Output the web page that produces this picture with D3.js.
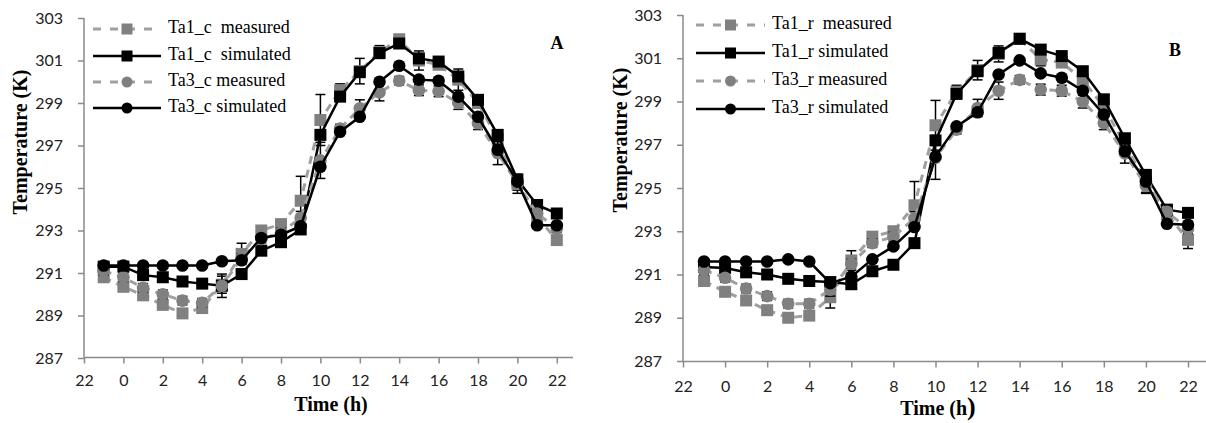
<!DOCTYPE html>
<html>
<head>
<meta charset="utf-8">
<script src="https://cdn.jsdelivr.net/npm/d3@7/dist/d3.min.js"></script>
<style>
  html, body { margin: 0; padding: 0; background: #fff; }
  svg { display: block; }
</style>
</head>
<body>
<svg id="chart" width="1206" height="423"></svg>
<script>
// ---------- data ----------
const hours = [-1,0,1,2,3,4,5,6,7,8,9,10,11,12,13,14,15,16,17,18,19,20,21,22];
const xTicks = [-2,0,2,4,6,8,10,12,14,16,18,20,22];
const xTickLabels = ["22","0","2","4","6","8","10","12","14","16","18","20","22"];
const yTicks = [287,289,291,293,295,297,299,301,303];

// Panel A
const ta1cMeasured = [290.8,290.35,289.95,289.5,289.1,289.35,290.45,291.9,293.0,293.3,294.4,298.2,299.6,300.5,301.4,302.0,301.0,300.8,300.1,299.0,297.3,295.2,293.65,292.55];
const ta1cSimulated = [291.3,291.3,290.9,290.8,290.6,290.5,290.4,290.95,292.05,292.45,293.05,297.5,299.3,300.45,301.35,301.8,301.1,300.95,300.25,299.15,297.5,295.4,294.2,293.8];
const ta3cMeasured = [291.1,290.8,290.3,290.0,289.7,289.6,290.4,291.7,292.6,292.9,293.6,296.3,297.8,298.75,299.5,300.05,299.6,299.55,299.0,298.05,296.65,295.2,293.8,293.1];
const ta3cSimulated = [291.35,291.35,291.35,291.35,291.35,291.35,291.55,291.6,292.65,292.8,293.2,296.0,297.65,298.35,300.0,300.75,300.1,300.05,299.3,298.35,296.8,295.3,293.25,293.25];
const ta1cError = [0.2,0.2,0.2,0.2,0.2,0.2,0.4,0.5,0.2,0.2,1.15,1.2,0.3,0.6,0.3,0.2,0.45,0.2,0.5,0.2,0.3,0.3,0.2,0.2];
const ta3cError = [0.2,0.2,0.2,0.2,0.2,0.2,0.55,0.2,0.2,0.2,0.3,0.85,0.2,0.4,0.4,0.2,0.25,0.25,0.3,0.3,0.55,0.45,0.2,0.2];

// Panel B
const ta1rMeasured = [290.7,290.2,289.8,289.35,289.0,289.1,289.95,291.65,292.75,293.0,294.2,297.9,299.45,300.45,301.2,301.9,300.95,300.8,300.0,298.75,297.0,295.3,293.8,292.6];
const ta1rSimulated = [291.35,291.3,291.1,291.0,290.8,290.7,290.65,290.55,291.15,291.45,292.45,297.2,299.35,300.4,301.25,301.9,301.4,301.1,300.4,299.1,297.3,295.6,294.0,293.85];
const ta3rMeasured = [291.2,290.85,290.35,290.0,289.65,289.65,290.3,291.5,292.45,292.75,293.6,296.4,297.7,298.7,299.5,300.0,299.55,299.5,299.0,298.0,296.6,295.1,293.9,293.1];
const ta3rSimulated = [291.6,291.6,291.6,291.6,291.7,291.6,290.6,290.9,291.7,292.3,293.2,296.45,297.85,298.5,300.25,300.9,300.3,300.1,299.5,298.4,296.7,295.3,293.35,293.3];
const ta1rError = [0.2,0.2,0.2,0.2,0.2,0.2,0.5,0.45,0.2,0.2,1.1,1.15,0.3,0.45,0.37,0.2,0.3,0.2,0.3,0.2,0.3,0.55,0.2,0.4];
const ta3rError = [0.2,0.2,0.2,0.2,0.2,0.2,0.3,0.2,0.2,0.2,0.3,1.0,0.2,0.4,0.4,0.2,0.25,0.25,0.3,0.3,0.45,0.3,0.2,0.2];

const legendA = ["Ta1_c  measured","Ta1_c  simulated","Ta3_c measured","Ta3_c simulated"];
const legendB = ["Ta1_r  measured","Ta1_r simulated","Ta3_r measured","Ta3_r simulated"];

// ---------- drawing ----------
const svg = d3.select("#chart");
const GRAY_LINE = "#a0a0a0", GRAY_MARK = "#808080", BLACK = "#000", AXIS = "#8a8a8a";
const serif = "'Liberation Serif','Times New Roman',serif";
const sans = "Lato, 'Open Sans', sans-serif";

function drawPanel(p) {
  const g = svg.append("g");
  const x = d3.scaleLinear().domain([-2, 22]).range([p.left, p.x22]);
  const y = d3.scaleLinear().domain([287, 303]).range([p.y287, p.y303]);

  // y axis
  const ya = g.append("g").attr("transform", `translate(${p.left},0)`)
    .call(d3.axisLeft(y).tickValues(yTicks).tickSize(6).tickPadding(15).tickFormat(d3.format("d")));
  ya.select(".domain").remove();
  ya.selectAll(".tick line").attr("stroke", AXIS).attr("stroke-width", 1.5);
  ya.selectAll(".tick text").attr("font-family", sans).attr("font-size", 16).attr("fill", "#222");
  g.append("line").attr("x1", p.left).attr("x2", p.left).attr("y1", y(303)).attr("y2", p.axisY)
    .attr("stroke", AXIS).attr("stroke-width", 1.5);

  // x axis
  const xa = g.append("g").attr("transform", `translate(0,${p.axisY})`)
    .call(d3.axisBottom(x).tickValues(xTicks).tickSize(6).tickPadding(p.xPad)
      .tickFormat((d, i) => xTickLabels[i]));
  xa.select(".domain").remove();
  xa.selectAll(".tick line").attr("stroke", AXIS).attr("stroke-width", 1.5);
  xa.selectAll(".tick text").attr("font-family", sans).attr("font-size", 16).attr("fill", "#222");
  g.append("line").attr("x1", p.left).attr("x2", p.axisEnd).attr("y1", p.axisY).attr("y2", p.axisY)
    .attr("stroke", AXIS).attr("stroke-width", 1.5);

  // axis titles
  g.append("text").attr("transform", `translate(${p.yTitleX},${p.yTitleY}) rotate(-90)`)
    .attr("text-anchor", "middle").attr("dominant-baseline", "middle")
    .attr("font-family", serif).attr("font-weight", "bold").attr("font-size", 20)
    .text("Temperature (K)");
  const xt = g.append("text").attr("x", p.xTitleX).attr("y", p.xTitleY)
    .attr("text-anchor", "middle").attr("font-family", serif).attr("font-weight", "bold").attr("font-size", 20);
  if (p.bigParen) {
    xt.append("tspan").text("Time (h");
    xt.append("tspan").attr("font-size", 26).text(")");
  } else {
    xt.text("Time (h)");
  }

  // panel letter
  g.append("text").attr("x", p.letterX).attr("y", p.letterY).attr("text-anchor", "middle")
    .attr("font-family", serif).attr("font-weight", "bold").attr("font-size", 18).text(p.letter);

  const series = [
    {vals: p.s[0], err: p.e[0], dashed: true, shape: "square"},
    {vals: p.s[1], err: null, dashed: false, shape: "square"},
    {vals: p.s[2], err: p.e[1], dashed: true, shape: "circle"},
    {vals: p.s[3], err: null, dashed: false, shape: "circle"}
  ];
  const line = d3.line().x((d, i) => x(hours[i])).y(d => y(d));

  series.forEach(s => {
    if (s.err) {
      const eg = g.append("g").attr("stroke", BLACK).attr("stroke-width", 1.5);
      s.vals.forEach((v, i) => {
        const cx = x(hours[i]), e = s.err[i];
        eg.append("line").attr("x1", cx).attr("x2", cx).attr("y1", y(v - e)).attr("y2", y(v + e));
        eg.append("line").attr("x1", cx - 5).attr("x2", cx + 5).attr("y1", y(v + e)).attr("y2", y(v + e));
        eg.append("line").attr("x1", cx - 5).attr("x2", cx + 5).attr("y1", y(v - e)).attr("y2", y(v - e));
      });
    }
    g.append("path").datum(s.vals).attr("d", line).attr("fill", "none")
      .attr("stroke", s.dashed ? GRAY_LINE : BLACK).attr("stroke-width", s.dashed ? 3 : 2.5)
      .attr("stroke-dasharray", s.dashed ? "8,6" : null);
    const fill = s.dashed ? GRAY_MARK : BLACK;
    s.vals.forEach((v, i) => {
      if (s.shape === "square") {
        g.append("rect").attr("x", x(hours[i]) - 6).attr("y", y(v) - 6).attr("width", 12).attr("height", 12).attr("fill", fill);
      } else {
        g.append("circle").attr("cx", x(hours[i])).attr("cy", y(v)).attr("r", 6.3).attr("fill", fill);
      }
    });
  });

  // legend
  p.legend.forEach((label, i) => {
    const s = series[i];
    const ly = p.legY[i];
    g.append("line").attr("x1", p.legX1).attr("x2", p.legX2).attr("y1", ly).attr("y2", ly)
      .attr("stroke", s.dashed ? GRAY_LINE : BLACK).attr("stroke-width", s.dashed ? 3 : 2.5)
      .attr("stroke-dasharray", s.dashed ? "8,9" : null);
    const mx = (p.legX1 + p.legX2) / 2;
    const fill = s.dashed ? GRAY_MARK : BLACK;
    if (s.shape === "square") g.append("rect").attr("x", mx - 5.5).attr("y", ly - 5.5).attr("width", 11).attr("height", 11).attr("fill", fill);
    else g.append("circle").attr("cx", mx).attr("cy", ly).attr("r", 5.5).attr("fill", fill);
    g.append("text").attr("x", p.legTextX).attr("y", ly).attr("dominant-baseline", "middle")
      .attr("font-family", serif).attr("font-size", 18).attr("xml:space", "preserve")
      .style("white-space", "pre").text(label);
  });
}

drawPanel({
  left: 84, x22: 556.8, y287: 358, y303: 18, axisY: 357.5, axisEnd: 573, xPad: 11,
  yTitleX: 22, yTitleY: 142, xTitleX: 331, xTitleY: 411, bigParen: false,
  letter: "A", letterX: 557, letterY: 49,
  s: [ta1cMeasured, ta1cSimulated, ta3cMeasured, ta3cSimulated], e: [ta1cError, ta3cError],
  legend: legendA, legY: [29, 56, 82, 108], legX1: 93, legX2: 161, legTextX: 168
});
drawPanel({
  left: 683, x22: 1188, y287: 361, y303: 15, axisY: 361.5, axisEnd: 1206, xPad: 13,
  yTitleX: 622, yTitleY: 140, xTitleX: 938, xTitleY: 415, bigParen: true,
  letter: "B", letterX: 1175, letterY: 56,
  s: [ta1rMeasured, ta1rSimulated, ta3rMeasured, ta3rSimulated], e: [ta1rError, ta3rError],
  legend: legendB, legY: [25, 53, 81, 109], legX1: 696, legX2: 765, legTextX: 772
});
</script>
</body>
</html>
